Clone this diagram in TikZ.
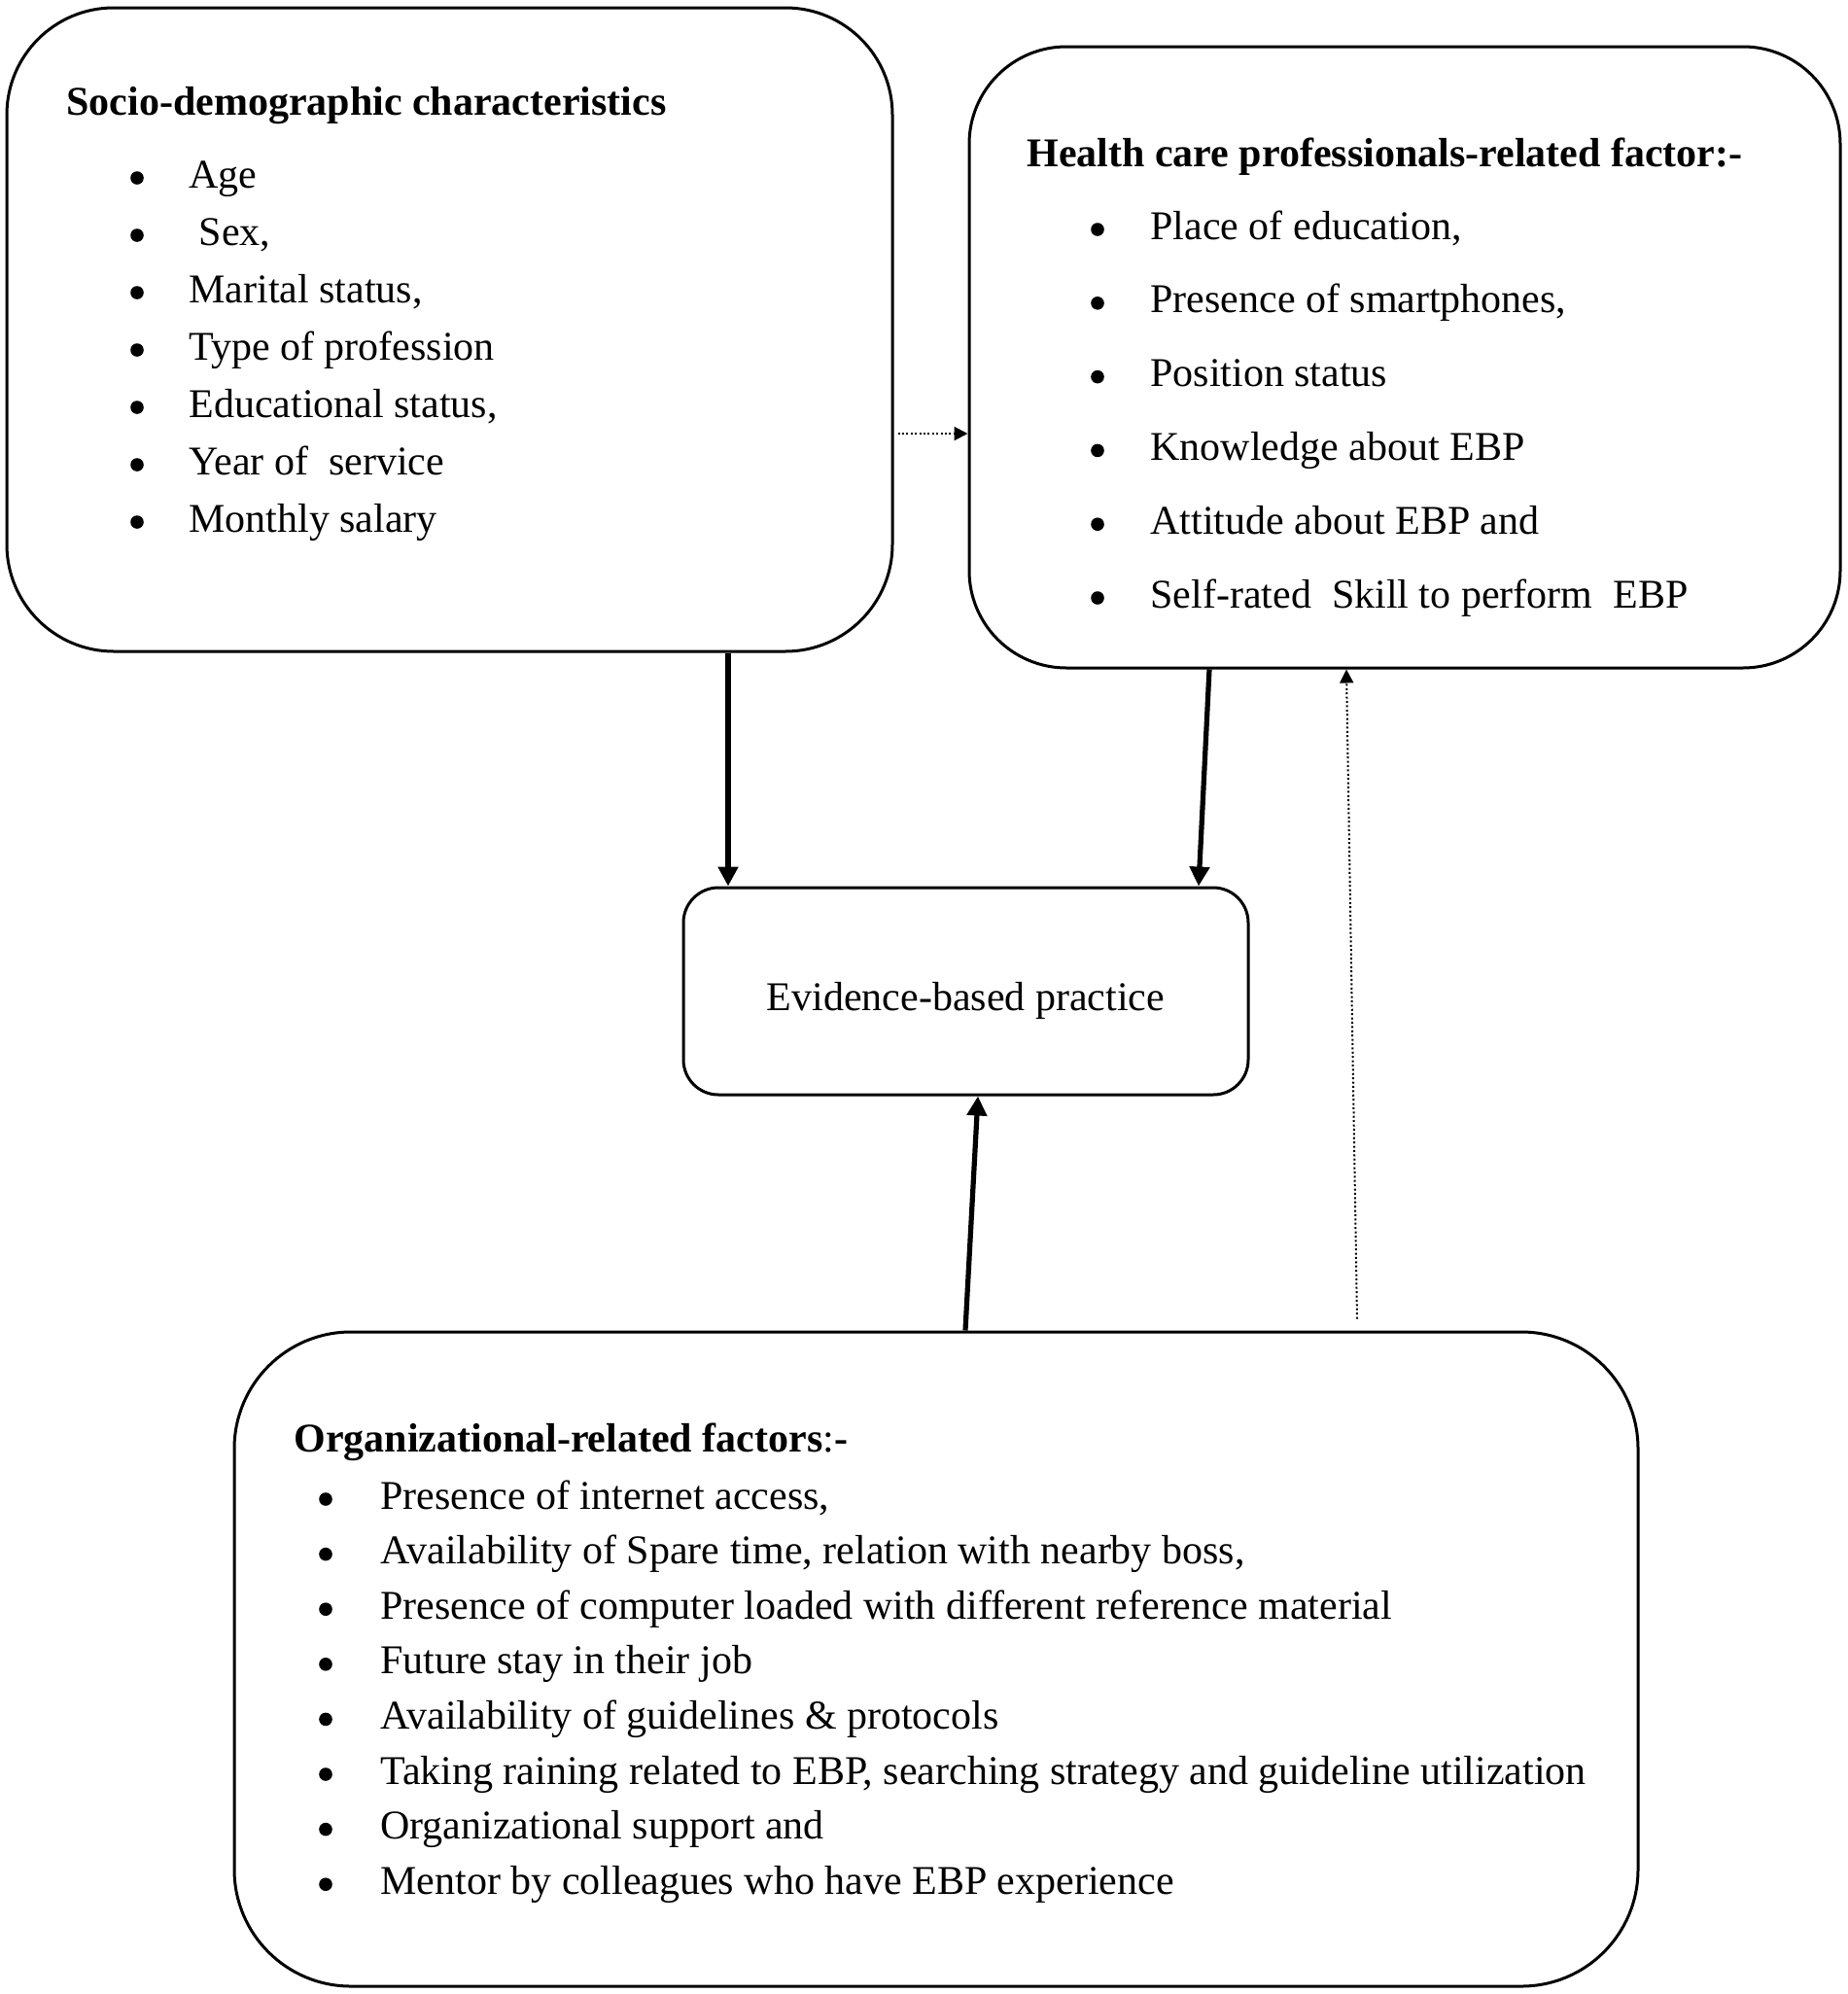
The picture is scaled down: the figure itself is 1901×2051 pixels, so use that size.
\documentclass[tikz,border=0pt]{standalone}
\usepackage{fontspec}
\setmainfont{Liberation Serif}
\usetikzlibrary{arrows.meta,calc}

\tikzset{
	factorbox/.style={draw,line width=1.5pt,rounded corners=#1,inner sep=0pt},
	itemtext/.style={anchor=base west,inner sep=0pt,font=\fontsize{21}{25}\selectfont},
	mainarrow/.style={line width=2.6pt,-{Triangle[length=10pt,width=10pt]}},
	dotarrow/.style={line width=1pt,dash pattern=on 1pt off 1.2pt,-{Triangle[length=7pt,width=7pt]}}
}

\begin{document}
\begin{tikzpicture}[x=0.5pt,y=-0.5pt]
	\useasboundingbox (0,0) rectangle (1901,2051);
	
	% boxes
	\node[factorbox=55pt,minimum width=455.5pt,minimum height=331pt] (socio) at (462.5,339) {};
	\node[factorbox=50pt,minimum width=448pt,minimum height=319.5pt] (health) at (1445,367.5) {};
	\node[factorbox=18pt,minimum width=290.5pt,minimum height=106.5pt,font=\fontsize{21}{25}\selectfont] (ebp) at (993.5,1019.5) {\raisebox{-10pt}[0pt][0pt]{Evidence-based practice}};
	\node[factorbox=60pt,minimum width=722pt,minimum height=336.5pt] (org) at (963,1706.5) {};
	
	% socio-demographic
	\node[itemtext] (sociotitle) at (68,118) {\textbf{Socio-demographic characteristics}};
	\foreach \txt [count=\i from 0] in {Age,{\ Sex,},{Marital status,},Type of profession,{Educational status,},Year of\ \ service,Monthly salary}{
		\fill ({141},{193+59*\i-10}) circle (3.4pt);
		\node[itemtext] (socio\i) at ({194},{193+59*\i}) {\txt};
	}
	
	% health care professionals
	\node[itemtext] (healthtitle) at (1056,171) {\textbf{Health care professionals-related factor:-}};
	\foreach \txt [count=\i from 0] in {{Place of education,},{Presence of smartphones,},Position status,Knowledge about EBP,Attitude about EBP and,Self-rated\ \ Skill to perform\ \ EBP}{
		\fill ({1129},{246+75.8*\i-10}) circle (3.4pt);
		\node[itemtext] (health\i) at ({1183},{246+75.8*\i}) {\txt};
	}
	
	% organizational
	\node[itemtext] (orgtitle) at (302,1493) {\textbf{Organizational-related factors}:\textbf{-}};
	\foreach \txt [count=\i from 0] in {{Presence of internet access,},{Availability of Spare time, relation with nearby boss,},Presence of computer loaded with different reference material,Future stay in their job,Availability of guidelines \& protocols,{Taking raining related to EBP, searching strategy and guideline utilization},Organizational support and,Mentor by colleagues who have EBP experience}{
		\fill ({335},{1552+56.6*\i-10}) circle (3.4pt);
		\node[itemtext] (org\i) at ({391},{1552+56.6*\i}) {\txt};
	}
	
	% connectors
	\draw[mainarrow] (socio.south -| 749,0) -- (ebp.north -| 749,0);
	\draw[mainarrow] (health.south -| 1244,0) -- (ebp.north -| 1233,0);
	\draw[mainarrow] (org.north -| 993,0) -- (ebp.south -| 1006,0);
	\draw[dotarrow] ([yshift=6pt]org.north -| 1396,0) -- (health.south -| 1385,0);
	\draw[dotarrow] ([xshift=2pt]socio.east |- 0,446) -- (health.west |- 0,446);
\end{tikzpicture}
\end{document}
